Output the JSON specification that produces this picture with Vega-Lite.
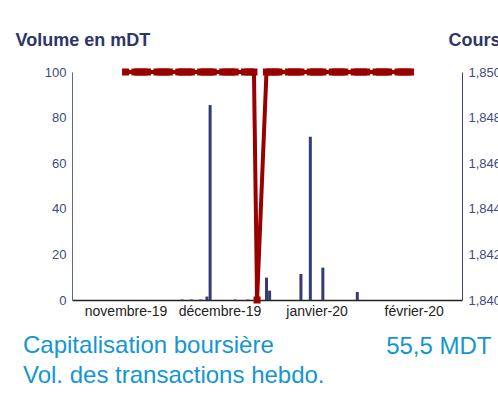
{
  "$schema": "https://vega.github.io/schema/vega-lite/v6.json",
  "width": 390,
  "height": 228,
  "autosize": "none",
  "padding": {"left": 72, "top": 72, "right": 36, "bottom": 103},
  "background": "white",
  "config": {
    "font": "Liberation Sans",
    "view": {"stroke": null}
  },
  "title": {
    "text": "Capitalisation boursière",
    "subtitle": "Vol. des transactions hebdo.",
    "orient": "bottom",
    "anchor": "start",
    "frame": "group",
    "dx": -49,
    "offset": -24,
    "font": "Liberation Sans",
    "fontSize": 24,
    "fontWeight": "normal",
    "color": "#1496d4",
    "subtitleFont": "Liberation Sans",
    "subtitleFontSize": 24,
    "subtitleColor": "#1496d4",
    "subtitlePadding": 6
  },
  "datasets": {
    "volume": [
      {"date": "2019-11-19", "volume": 0.2},
      {"date": "2019-11-22", "volume": 0.2},
      {"date": "2019-11-25", "volume": 0.2},
      {"date": "2019-11-27", "volume": 1.5},
      {"date": "2019-11-28", "volume": 85.5},
      {"date": "2019-12-06", "volume": 0.2},
      {"date": "2019-12-10", "volume": 0.2},
      {"date": "2019-12-16", "volume": 9.8},
      {"date": "2019-12-17", "volume": 4.1},
      {"date": "2019-12-27", "volume": 11.4},
      {"date": "2019-12-30", "volume": 71.6},
      {"date": "2020-01-03", "volume": 14.2},
      {"date": "2020-01-14", "volume": 3.5}
    ],
    "cours": [
      {"date": "2019-11-01", "cours": 1.85},
      {"date": "2019-11-04", "cours": 1.85},
      {"date": "2019-11-05", "cours": 1.85},
      {"date": "2019-11-06", "cours": 1.85},
      {"date": "2019-11-07", "cours": 1.85},
      {"date": "2019-11-08", "cours": 1.85},
      {"date": "2019-11-11", "cours": 1.85},
      {"date": "2019-11-12", "cours": 1.85},
      {"date": "2019-11-13", "cours": 1.85},
      {"date": "2019-11-14", "cours": 1.85},
      {"date": "2019-11-15", "cours": 1.85},
      {"date": "2019-11-18", "cours": 1.85},
      {"date": "2019-11-19", "cours": 1.85},
      {"date": "2019-11-20", "cours": 1.85},
      {"date": "2019-11-21", "cours": 1.85},
      {"date": "2019-11-22", "cours": 1.85},
      {"date": "2019-11-25", "cours": 1.85},
      {"date": "2019-11-26", "cours": 1.85},
      {"date": "2019-11-27", "cours": 1.85},
      {"date": "2019-11-28", "cours": 1.85},
      {"date": "2019-11-29", "cours": 1.85},
      {"date": "2019-12-02", "cours": 1.85},
      {"date": "2019-12-03", "cours": 1.85},
      {"date": "2019-12-04", "cours": 1.85},
      {"date": "2019-12-05", "cours": 1.85},
      {"date": "2019-12-06", "cours": 1.85},
      {"date": "2019-12-09", "cours": 1.85},
      {"date": "2019-12-10", "cours": 1.85},
      {"date": "2019-12-11", "cours": 1.85},
      {"date": "2019-12-12", "cours": 1.85},
      {"date": "2019-12-13", "cours": 1.84},
      {"date": "2019-12-16", "cours": 1.85},
      {"date": "2019-12-17", "cours": 1.85},
      {"date": "2019-12-18", "cours": 1.85},
      {"date": "2019-12-19", "cours": 1.85},
      {"date": "2019-12-20", "cours": 1.85},
      {"date": "2019-12-23", "cours": 1.85},
      {"date": "2019-12-24", "cours": 1.85},
      {"date": "2019-12-25", "cours": 1.85},
      {"date": "2019-12-26", "cours": 1.85},
      {"date": "2019-12-27", "cours": 1.85},
      {"date": "2019-12-30", "cours": 1.85},
      {"date": "2019-12-31", "cours": 1.85},
      {"date": "2020-01-01", "cours": 1.85},
      {"date": "2020-01-02", "cours": 1.85},
      {"date": "2020-01-03", "cours": 1.85},
      {"date": "2020-01-06", "cours": 1.85},
      {"date": "2020-01-07", "cours": 1.85},
      {"date": "2020-01-08", "cours": 1.85},
      {"date": "2020-01-09", "cours": 1.85},
      {"date": "2020-01-10", "cours": 1.85},
      {"date": "2020-01-13", "cours": 1.85},
      {"date": "2020-01-14", "cours": 1.85},
      {"date": "2020-01-15", "cours": 1.85},
      {"date": "2020-01-16", "cours": 1.85},
      {"date": "2020-01-17", "cours": 1.85},
      {"date": "2020-01-20", "cours": 1.85},
      {"date": "2020-01-21", "cours": 1.85},
      {"date": "2020-01-22", "cours": 1.85},
      {"date": "2020-01-23", "cours": 1.85},
      {"date": "2020-01-24", "cours": 1.85},
      {"date": "2020-01-27", "cours": 1.85},
      {"date": "2020-01-28", "cours": 1.85},
      {"date": "2020-01-29", "cours": 1.85},
      {"date": "2020-01-30", "cours": 1.85},
      {"date": "2020-01-31", "cours": 1.85}
    ]
  },
  "encoding": {
    "x": {
      "field": "date",
      "type": "temporal",
      "scale": {
        "type": "utc",
        "domain": [
          {"year": 2019, "month": 10, "date": 16, "hours": 12, "utc": true},
          {"year": 2020, "month": 2, "date": 14, "hours": 20, "utc": true}
        ],
        "nice": false
      },
      "axis": {
        "title": "55,5 MDT",
        "titleX": 419,
        "titleY": 53,
        "titleAlign": "right",
        "titleAnchor": null,
        "titleBaseline": "alphabetic",
        "titleFont": "Liberation Sans",
        "titleFontSize": 24,
        "titleFontWeight": "normal",
        "titleColor": "#1496d4",
        "values": [
          {"year": 2019, "month": 11, "date": 1, "utc": true},
          {"year": 2019, "month": 12, "date": 1, "utc": true},
          {"year": 2020, "month": 1, "date": 1, "utc": true},
          {"year": 2020, "month": 2, "date": 1, "utc": true}
        ],
        "labelExpr": "['janvier','février','mars','avril','mai','juin','juillet','août','septembre','octobre','novembre','décembre'][utcmonth(datum.value)] + '-' + utcFormat(datum.value, '%y')",
        "labelFontSize": 14,
        "labelColor": "#222222",
        "labelPadding": 4,
        "labelFlush": false,
        "labelOverlap": false,
        "ticks": false,
        "grid": false,
        "domainColor": "#222222",
        "domainWidth": 1.5
      }
    }
  },
  "layer": [
    {
      "data": {"name": "volume"},
      "mark": {"type": "bar", "size": 3, "color": "#353c74"},
      "encoding": {
        "y": {
          "field": "volume",
          "type": "quantitative",
          "scale": {"domain": [0, 100], "nice": false},
          "axis": {
            "orient": "left",
            "values": [0, 20, 40, 60, 80, 100],
            "title": "Volume en mDT",
            "titleAngle": 0,
            "titleAlign": "left",
            "titleAnchor": null,
            "titleBaseline": "alphabetic",
            "titleX": -57,
            "titleY": -27,
            "titleFont": "Liberation Sans",
            "titleFontSize": 18,
            "titleFontWeight": "bold",
            "titleColor": "#2e3567",
            "labelFontSize": 13,
            "labelColor": "#414a80",
            "labelPadding": 6,
            "ticks": false,
            "grid": false,
            "domainColor": "#5f6594",
            "domainWidth": 1
          }
        }
      }
    },
    {
      "data": {"name": "cours"},
      "mark": {
        "type": "line",
        "color": "#990000",
        "strokeWidth": 4,
        "point": {"shape": "square", "size": 49, "filled": true, "color": "#990000", "opacity": 1}
      },
      "encoding": {
        "y": {
          "field": "cours",
          "type": "quantitative",
          "scale": {"domain": [1.84, 1.85], "nice": false, "zero": false},
          "axis": {
            "orient": "right",
            "values": [1.84, 1.842, 1.844, 1.846, 1.848, 1.85],
            "labelExpr": "replace(format(datum.value, '.3f'), '.', ',')",
            "title": "Cours",
            "titleAngle": 0,
            "titleAlign": "left",
            "titleAnchor": null,
            "titleBaseline": "alphabetic",
            "titleX": -14,
            "titleY": -27,
            "titleFont": "Liberation Sans",
            "titleFontSize": 18,
            "titleFontWeight": "bold",
            "titleColor": "#2e3567",
            "labelFontSize": 13,
            "labelColor": "#414a80",
            "labelPadding": 6,
            "ticks": false,
            "grid": false,
            "domainColor": "#3b4278",
            "domainWidth": 1
          }
        }
      }
    }
  ],
  "resolve": {"scale": {"y": "independent"}, "axis": {"y": "independent"}}
}
